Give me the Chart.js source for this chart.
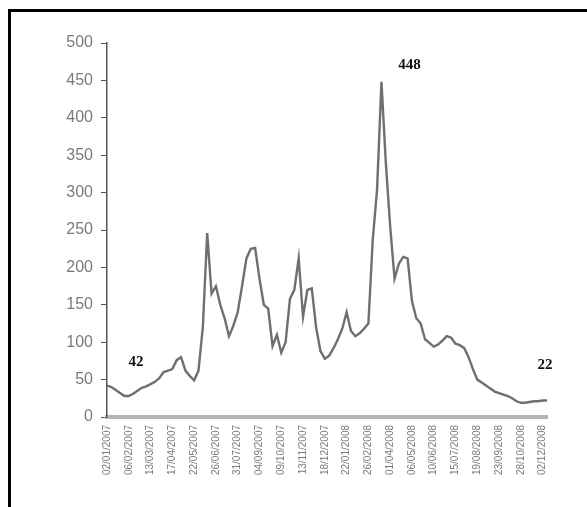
<!DOCTYPE html>
<html>
<head>
<meta charset="utf-8">
<script src="https://cdn.jsdelivr.net/npm/chart.js@4.4.0/dist/chart.umd.min.js"></script>
<style>
  html, body { margin: 0; padding: 0; background: #fff; overflow: hidden; }
  #wrap { position: relative; width: 587px; height: 507px; }
  #frame { position: absolute; left: 8px; top: 9px; width: 700px; height: 600px; border: 3px solid #000; box-sizing: border-box; pointer-events: none; }
  canvas { position: absolute; left: 0; top: 0; }
</style>
</head>
<body>
<div id="wrap">
  <canvas id="c" width="587" height="507"></canvas>
  <div id="frame"></div>
</div>
<script>
// Series values (one per period)
const values = [42,40,36,32,28,28,31,35,39,41,
  44,47,52,60,62,64,76,80,62,55,
  49,62,120,246,165,175,150,132,108,122,
  140,175,212,225,226,185,150,145,95,110,
  86,100,158,170,212,134,170,172,120,88,
  78,82,92,104,118,140,115,108,112,118,
  125,237,305,448,340,255,185,205,214,212,
  155,132,125,104,99,94,97,102,108,106,
  98,96,92,80,64,50,46,42,38,34,
  32,30,28,25,21,19,19,20,21,21,
  22,22];

// Tick labels shown every 5th period
const tickLabels = ["02/01/2007","06/02/2007","13/03/2007","17/04/2007","22/05/2007",
  "26/06/2007","31/07/2007","04/09/2007","09/10/2007","13/11/2007","18/12/2007",
  "22/01/2008","26/02/2008","01/04/2008","06/05/2008","10/06/2008","15/07/2008",
  "19/08/2008","23/09/2008","28/10/2008","02/12/2008"];
const tickEvery = 5;

// Indices of points that carry a value label
const labelledPoints = [0, 63, 101];

const labelPlugin = {
  id: 'valueLabels',
  afterDatasetsDraw(chart) {
    const ctx = chart.ctx;
    const meta = chart.getDatasetMeta(0);
    const offsets = { 0: [29, -23], 63: [28, -17], 101: [-2, -35] };
    ctx.save();
    ctx.font = 'bold 15px "Liberation Serif", serif';
    ctx.fillStyle = '#111';
    ctx.textAlign = 'center';
    ctx.textBaseline = 'middle';
    labelledPoints.forEach(i => {
      const p = meta.data[i];
      const o = offsets[i] || [0, -15];
      ctx.fillText(String(values[i]), p.x + o[0], p.y + o[1]);
    });
    ctx.restore();
  }
};

new Chart(document.getElementById('c'), {
  type: 'line',
  data: {
    datasets: [{
      data: values.map((v, i) => ({ x: i, y: v })),
      borderColor: '#6f6f6f',
      borderWidth: 2.4,
      pointRadius: 0,
      tension: 0,
      fill: false
    }]
  },
  options: {
    responsive: false,
    devicePixelRatio: 1,
    animation: false,
    layout: { padding: { left: 0, top: 43, right: 40, bottom: 0 } },
    plugins: { legend: { display: false }, tooltip: { enabled: false } },
    scales: {
      x: {
        type: 'linear',
        min: 0,
        max: values.length - 1,
        afterBuildTicks: s => { s.ticks = s.ticks.filter(t => t.value % tickEvery === 0); },
        afterFit: s => { s.height = 90; },
        grid: { display: false, drawTicks: false },
        border: { display: true, color: '#b4b4b4', width: 4 },
        ticks: {
          stepSize: tickEvery,
          includeBounds: false,
          autoSkip: false,
          minRotation: 90,
          maxRotation: 90,
          padding: 8,
          color: '#7a7a7a',
          font: { family: '"Liberation Sans", Arial, sans-serif', size: 10 },
          callback: v => tickLabels[v / tickEvery]
        }
      },
      y: {
        min: 0,
        max: 500,
        afterFit: s => { s.width = 107; },
        grid: { display: true, drawOnChartArea: false, drawTicks: true, tickLength: 6, color: '#555', lineWidth: 1 },
        border: { display: true, color: '#555', width: 1.5 },
        ticks: {
          stepSize: 50,
          padding: 8,
          color: '#7a7a7a',
          font: { family: '"Liberation Sans", Arial, sans-serif', size: 16 }
        }
      }
    }
  },
  plugins: [labelPlugin]
});
</script>
</body>
</html>
